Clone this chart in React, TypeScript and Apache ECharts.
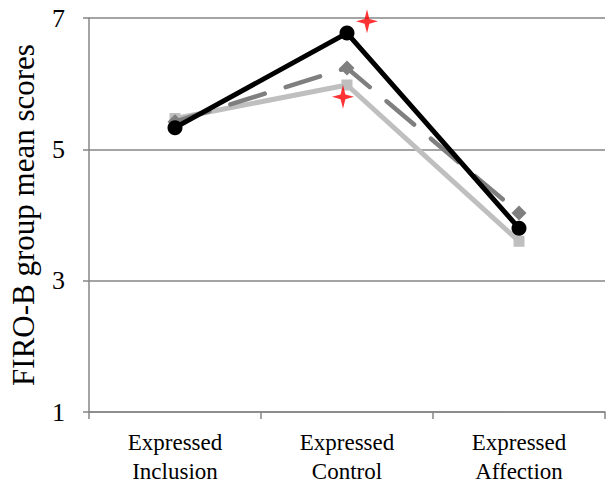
import React, { useEffect, useRef } from "react";
import * as echarts from "echarts";

const categories = ["Expressed\nInclusion", "Expressed\nControl", "Expressed\nAffection"];
const yTicks = [1, 3, 5, 7];
const seriesBlack = [5.33, 6.77, 3.8];
const seriesDashed = [5.42, 6.24, 4.03];
const seriesLight = [5.47, 5.98, 3.6];
// significance stars: [categoryIndex, value, xOffset]
const stars: [number, number, number][] = [
  [1, 6.95, 20],
  [1, 5.8, -4],
];

const starPath = "path://M0,-12 L2.4,-2.4 L11,0 L2.4,2.4 L0,12 L-2.4,2.4 L-11,0 L-2.4,-2.4 Z";

export default function App() {
  const ref = useRef<HTMLDivElement>(null);
  useEffect(() => {
    if (!ref.current) return;
    const chart = echarts.init(ref.current, null, { renderer: "svg" });
    const font = "'Liberation Serif', 'Times New Roman', serif";
    chart.setOption({
      animation: false,
      grid: { left: 89, right: 6, top: 18, bottom: 78, containLabel: false },
      xAxis: {
        type: "category",
        data: categories,
        boundaryGap: true,
        axisLine: { lineStyle: { color: "#868686", width: 1.5 } },
        axisTick: { show: true, length: 7, lineStyle: { color: "#868686", width: 1.5 } },
        axisLabel: {
          color: "#000",
          fontFamily: font,
          fontSize: 23,
          lineHeight: 29,
          margin: 16,
          interval: 0,
        },
      },
      yAxis: {
        type: "value",
        min: 1,
        max: 7,
        interval: 2,
        name: "FIRO-B group mean scores",
        nameLocation: "middle",
        nameGap: 50,
        nameTextStyle: { color: "#000", fontFamily: font, fontSize: 31 },
        axisLine: { show: true, lineStyle: { color: "#868686", width: 1.5 } },
        axisTick: { show: true, length: 6, lineStyle: { color: "#868686", width: 1.5 } },
        splitLine: { show: true, lineStyle: { color: "#868686", width: 1.5 } },
        axisLabel: {
          color: "#000",
          fontFamily: font,
          fontSize: 26,
          margin: 24,
          formatter: (v: number) => (yTicks.includes(v) ? String(v) : ""),
        },
      },
      series: [
        {
          type: "line",
          data: seriesLight,
          symbol: "rect",
          symbolSize: 11,
          itemStyle: { color: "#bfbfbf" },
          lineStyle: { color: "#bfbfbf", width: 5 },
          z: 2,
        },
        {
          type: "line",
          data: seriesDashed,
          symbol: "diamond",
          symbolSize: 15,
          itemStyle: { color: "#7f7f7f" },
          lineStyle: { color: "#7f7f7f", width: 4.5, type: [36, 22], cap: "round" },
          z: 3,
        },
        {
          type: "line",
          data: seriesBlack,
          symbol: "circle",
          symbolSize: 15,
          itemStyle: { color: "#000" },
          lineStyle: { color: "#000", width: 5 },
          z: 4,
        },
        {
          type: "scatter",
          data: stars.map(([c, v, off]) => ({ value: [c, v], symbolOffset: [off, 0] })),
          symbol: starPath,
          symbolSize: [22, 24],
          itemStyle: { color: "#ff0000" },
          z: 5,
        },
      ],
    });
    return () => chart.dispose();
  }, []);
  return <div ref={ref} style={{ width: 611, height: 490, position: "absolute", left: 0, top: 0 }} />;
}
